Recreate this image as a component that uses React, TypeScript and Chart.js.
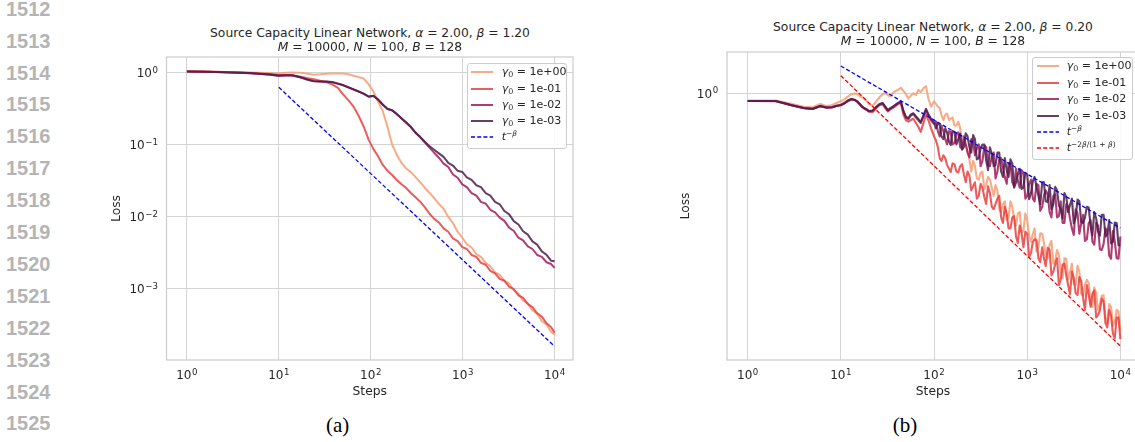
import React, { useEffect, useRef } from 'react';
import { Chart, registerables } from 'chart.js';

Chart.register(...registerables);

// ---------------- data: panel (a), beta = 1.20 ----------------
const STEPS_A = [1, 1.5, 2, 3, 4, 5, 6, 7, 8, 10, 12, 14, 17, 20, 24, 28, 33, 38, 44, 50, 57, 65, 74, 84, 95,
  107, 120, 135, 152, 171, 192, 216, 243, 273, 307, 345, 388, 436, 490, 551, 620, 697, 784, 881, 990,
  1110, 1250, 1410, 1580, 1780, 2000, 2250, 2530, 2840, 3200, 3600, 4040, 4540, 5110, 5740, 6460, 7260, 8160, 9180, 10000];

const LOSS_A_G1 = [1.047, 1.040, 1.033, 1.023, 1.014, 1.007, 1.000, 0.993, 0.989, 0.982,
  1.000, 1.012, 1.000, 0.977, 0.944, 0.955, 0.973, 0.977, 0.982, 0.977,
  0.955, 0.912, 0.871, 0.832, 0.692, 0.550, 0.398, 0.295, 0.178, 0.100,
  0.0724, 0.0562, 0.0468, 0.0417, 0.0355, 0.0302, 0.0251, 0.0214, 0.0182, 0.0151,
  0.0129, 0.00995, 0.00817, 0.00614, 0.00515, 0.00415, 0.00373, 0.00301, 0.00277, 0.00228,
  0.00205, 0.00169, 0.00156, 0.00128, 0.00118, 0.000951, 0.000855, 0.000689, 0.000619, 0.000499,
  0.000449, 0.000353, 0.000318, 0.000250, 0.000230];

const LOSS_A_G2 = [1.047, 1.040, 1.033, 1.019, 1.007, 0.995, 0.982, 0.973, 0.964, 0.933,
  0.933, 0.923, 0.891, 0.851, 0.813, 0.776, 0.741, 0.692, 0.617, 0.501,
  0.417, 0.339, 0.251, 0.178, 0.117, 0.0871, 0.0692, 0.0525, 0.0437, 0.0380,
  0.0324, 0.0282, 0.0251, 0.0214, 0.0186, 0.0162, 0.0135, 0.0110, 0.00933, 0.00832,
  0.00689, 0.00619, 0.00499, 0.00459, 0.00378, 0.00356, 0.00294, 0.00277, 0.00228, 0.00215,
  0.00177, 0.00163, 0.00137, 0.00129, 0.00107, 0.000982, 0.000809, 0.000745, 0.000614, 0.000552,
  0.000455, 0.000409, 0.000330, 0.000290, 0.000245];

const LOSS_A_G3 = [1.047, 1.038, 1.028, 1.012, 0.998, 0.984, 0.970, 0.957, 0.944, 0.910,
  0.920, 0.921, 0.868, 0.810, 0.764, 0.756, 0.752, 0.742, 0.705, 0.673,
  0.628, 0.586, 0.547, 0.510, 0.465, 0.476, 0.424, 0.360, 0.313, 0.299,
  0.266, 0.232, 0.202, 0.176, 0.146, 0.127, 0.107, 0.0912, 0.0776, 0.0661,
  0.0547, 0.0492, 0.0387, 0.0348, 0.0281, 0.0258, 0.0213, 0.0196, 0.0161, 0.0152,
  0.0125, 0.0115, 0.00973, 0.00875, 0.00705, 0.00634, 0.00511, 0.00470, 0.00387, 0.00356,
  0.00294, 0.00277, 0.00233, 0.00220, 0.00194];

const LOSS_A_G4 = [1.047, 1.038, 1.028, 1.014, 1.000, 0.986, 0.973, 0.959, 0.946, 0.912,
  0.923, 0.923, 0.871, 0.813, 0.767, 0.759, 0.755, 0.745, 0.708, 0.676,
  0.631, 0.589, 0.550, 0.513, 0.468, 0.479, 0.427, 0.363, 0.316, 0.302,
  0.269, 0.234, 0.204, 0.178, 0.148, 0.129, 0.110, 0.0955, 0.0851, 0.0759,
  0.0679, 0.0560, 0.0515, 0.0435, 0.0419, 0.0353, 0.0325, 0.0274, 0.0258, 0.0213,
  0.0196, 0.0161, 0.0149, 0.0120, 0.0108, 0.00867, 0.00780, 0.00628, 0.00565, 0.00455,
  0.00409, 0.00330, 0.00296, 0.00244, 0.00241];

// ---------------- data: panel (b), beta = 0.20 ----------------
const STEPS_B = [1, 2, 3, 4, 5, 6, 7, 8, 9, 10, 11, 12, 13, 14, 15, 16, 17, 18, 19, 20,
  22, 24, 26, 28, 30, 32, 34, 36, 38, 41, 44, 47, 50, 53, 56, 60, 64, 68, 72, 77, 82, 87, 93, 100,
  105, 110, 115, 120, 126, 132, 138, 145, 151, 158,
  166, 174, 182, 191, 200, 209, 219, 229, 240, 251,
  263, 275, 288, 302, 316, 331, 347, 363, 380, 398,
  417, 437, 457, 479, 501, 525, 550, 575, 603, 631,
  661, 692, 724, 759, 794, 832, 871, 912, 955, 1000,
  1050, 1100, 1150, 1200, 1260, 1320, 1380, 1450, 1510, 1580,
  1660, 1740, 1820, 1910, 2000, 2090, 2190, 2290, 2400, 2510,
  2630, 2750, 2880, 3020, 3160, 3310, 3470, 3630, 3800, 3980,
  4170, 4370, 4570, 4790, 5010, 5250, 5500, 5750, 6030, 6310,
  6610, 6920, 7240, 7590, 7940, 8320, 8710, 9120, 9550, 10000];

const LOSS_B_G1 = [0.940, 0.940, 0.912, 0.891, 0.887, 0.912, 0.897, 0.902, 0.920, 0.933,
  0.951, 0.973, 0.991, 0.998, 0.991, 0.973, 0.966, 0.951, 0.933, 0.912,
  0.899, 0.933, 0.966, 0.991, 1.002, 0.982, 0.973, 1.000, 1.014,
  1.028, 1.047, 1.019, 0.991, 0.955, 0.977,
  1.000, 0.986, 1.028, 1.009, 1.042, 1.062, 0.955, 0.891, 0.933,
  0.912, 0.891, 0.881, 0.832, 0.794, 0.832, 0.841, 0.794, 0.804, 0.813,
  0.759, 0.759, 0.785, 0.741, 0.646, 0.646, 0.646, 0.617, 0.569, 0.513,
  0.562, 0.537, 0.484, 0.479, 0.507, 0.513, 0.442, 0.457, 0.490, 0.479,
  0.447, 0.417, 0.457, 0.437, 0.372, 0.363, 0.389, 0.398, 0.339, 0.347,
  0.398, 0.380, 0.343, 0.324, 0.359, 0.363, 0.305, 0.309, 0.359, 0.339,
  0.297, 0.282, 0.301, 0.316, 0.260, 0.269, 0.303, 0.302, 0.280, 0.251,
  0.244, 0.275, 0.284, 0.234, 0.240, 0.263, 0.252, 0.219, 0.207, 0.245,
  0.244, 0.204, 0.218, 0.234, 0.197, 0.195, 0.230, 0.219, 0.181, 0.178,
  0.196, 0.204, 0.199, 0.170, 0.162, 0.191, 0.182, 0.158, 0.165, 0.178,
  0.179, 0.148, 0.141, 0.166, 0.162, 0.138, 0.142, 0.158, 0.156, 0.132];

const LOSS_B_G2 = [0.935, 0.935, 0.902, 0.881, 0.875, 0.897, 0.885, 0.887, 0.899, 0.904,
  0.922, 0.941, 0.951, 0.944, 0.930, 0.908, 0.887, 0.875, 0.866, 0.855,
  0.851, 0.881, 0.902, 0.912, 0.881, 0.855, 0.871, 0.881, 0.891,
  0.912, 0.923, 0.832, 0.794, 0.785, 0.794,
  0.804, 0.776, 0.750, 0.719, 0.776, 0.832, 0.794, 0.741, 0.692,
  0.668, 0.631, 0.575, 0.562, 0.589, 0.575, 0.543, 0.525, 0.511, 0.550,
  0.546, 0.513, 0.509, 0.537, 0.546, 0.501, 0.468, 0.513, 0.495, 0.437,
  0.452, 0.468, 0.407, 0.417, 0.462, 0.447, 0.412, 0.389, 0.452, 0.427,
  0.380, 0.372, 0.389, 0.407, 0.417, 0.347, 0.331, 0.380, 0.359, 0.316,
  0.316, 0.347, 0.351, 0.295, 0.279, 0.324, 0.303, 0.269, 0.307, 0.302,
  0.248, 0.257, 0.282, 0.288, 0.286, 0.245, 0.237, 0.269, 0.246, 0.229,
  0.268, 0.263, 0.212, 0.219, 0.233, 0.245, 0.195, 0.204, 0.232, 0.234,
  0.211, 0.195, 0.180, 0.219, 0.207, 0.182, 0.179, 0.209, 0.202, 0.174,
  0.158, 0.195, 0.180, 0.162, 0.181, 0.186, 0.148, 0.151, 0.157, 0.174,
  0.169, 0.141, 0.136, 0.158, 0.150, 0.129, 0.124, 0.148, 0.148, 0.123];

const LOSS_B_G3 = [0.935, 0.934, 0.900, 0.879, 0.874, 0.895, 0.884, 0.885, 0.897, 0.902,
  0.917, 0.936, 0.948, 0.944, 0.930, 0.909, 0.889, 0.876, 0.868, 0.856,
  0.860, 0.887, 0.908, 0.916, 0.887, 0.861, 0.877, 0.886, 0.899,
  0.915, 0.927, 0.853, 0.810, 0.802, 0.825,
  0.836, 0.812, 0.794, 0.775, 0.819, 0.866, 0.826, 0.792, 0.770,
  0.785, 0.724, 0.692, 0.759, 0.724, 0.676, 0.646, 0.724, 0.719, 0.646,
  0.653, 0.708, 0.716, 0.631, 0.624, 0.692, 0.646, 0.603, 0.579, 0.676,
  0.668, 0.589, 0.624, 0.646, 0.537, 0.562, 0.638, 0.631, 0.543, 0.537,
  0.582, 0.603, 0.484, 0.513, 0.569, 0.575, 0.531, 0.490, 0.462, 0.550,
  0.550, 0.468, 0.452, 0.525, 0.473, 0.447, 0.519, 0.501, 0.407, 0.417,
  0.462, 0.479, 0.407, 0.398, 0.462, 0.457, 0.367, 0.380, 0.417, 0.437,
  0.422, 0.363, 0.347, 0.417, 0.422, 0.347, 0.351, 0.398, 0.331, 0.331,
  0.389, 0.380, 0.343, 0.316, 0.299, 0.372, 0.359, 0.302, 0.329, 0.355,
  0.284, 0.288, 0.330, 0.339, 0.282, 0.275, 0.332, 0.324, 0.264, 0.263,
  0.277, 0.316, 0.309, 0.251, 0.244, 0.309, 0.283, 0.245, 0.244, 0.295];

const LOSS_B_G4 = [0.935, 0.935, 0.902, 0.881, 0.875, 0.897, 0.885, 0.887, 0.899, 0.904,
  0.920, 0.940, 0.951, 0.946, 0.933, 0.912, 0.891, 0.879, 0.871, 0.859,
  0.863, 0.891, 0.912, 0.920, 0.891, 0.865, 0.881, 0.891, 0.904,
  0.920, 0.933, 0.859, 0.817, 0.809, 0.832,
  0.843, 0.820, 0.802, 0.783, 0.828, 0.875, 0.836, 0.802, 0.780,
  0.741, 0.776, 0.767, 0.692, 0.676, 0.741, 0.716, 0.661, 0.643, 0.724,
  0.719, 0.646, 0.675, 0.708, 0.618, 0.631, 0.711, 0.692, 0.631, 0.603,
  0.700, 0.676, 0.569, 0.575, 0.624, 0.646, 0.646, 0.562, 0.519, 0.631,
  0.596, 0.537, 0.543, 0.603, 0.603, 0.513, 0.490, 0.575, 0.519, 0.490,
  0.569, 0.550, 0.447, 0.468, 0.501, 0.525, 0.442, 0.447, 0.507, 0.501,
  0.405, 0.427, 0.473, 0.490, 0.449, 0.417, 0.388, 0.468, 0.469, 0.398,
  0.396, 0.457, 0.372, 0.389, 0.450, 0.437, 0.385, 0.372, 0.344, 0.427,
  0.412, 0.363, 0.386, 0.407, 0.330, 0.347, 0.404, 0.398, 0.333, 0.331,
  0.347, 0.380, 0.378, 0.324, 0.298, 0.363, 0.344, 0.309, 0.297, 0.355,
  0.355, 0.295, 0.300, 0.339, 0.278, 0.282, 0.332, 0.331, 0.274, 0.275];

// reference power laws (end points)
const REF_STEPS = [10, 10000];
const REF_A_BETA = [0.631, 0.000158];
const REF_B_BETA = [1.26, 0.317];
const REF_B_2BETA = [1.16, 0.116];

const SERIES_LABELS = ['1e+00', '1e-01', '1e-02', '1e-03'];
const X_TICKS = [1, 10, 100, 1000, 10000];
const X_TICK_EXPONENTS = ['0', '1', '2', '3', '4'];
const Y_TICKS_A = [1, 0.1, 0.01, 0.001];
const Y_TICK_EXPONENTS_A = ['0', '−1', '−2', '−3'];
const Y_TICKS_B = [1];
const Y_TICK_EXPONENTS_B = ['0'];
const LINE_NUMBERS = ['1512', '1513', '1514', '1515', '1516', '1517', '1518', '1519', '1520', '1521', '1522', '1523', '1524', '1525'];

// ---------------- style ----------------
const FONT = "'DejaVu Sans', sans-serif";
const INK = '#262626';
const GRID = '#d4d4d4';
const SPINE = '#cccccc';
const SERIES_COLORS = ['rgba(246,156,115,0.85)', 'rgba(232,63,63,0.85)', 'rgba(161,26,91,0.85)', 'rgba(76,29,75,0.85)'];

const spinePlugin = {
  id: 'spines',
  afterDatasetsDraw(chart: any) {
    const { ctx, chartArea: a } = chart;
    ctx.save();
    ctx.strokeStyle = SPINE;
    ctx.lineWidth = 1.2;
    ctx.strokeRect(a.left, a.top, a.right - a.left, a.bottom - a.top);
    ctx.restore();
  },
};

function drawPow(ctx: CanvasRenderingContext2D, exp: string, x: number, baseline: number, align: 'center' | 'right') {
  ctx.font = `12px ${FONT}`;
  const wb = ctx.measureText('10').width;
  ctx.font = `8.6px ${FONT}`;
  const we = ctx.measureText(exp).width;
  const gap = 0.6;
  const total = wb + gap + we;
  const x0 = align === 'center' ? x - total / 2 : x - total;
  ctx.textAlign = 'left';
  ctx.textBaseline = 'alphabetic';
  ctx.font = `12px ${FONT}`;
  ctx.fillText('10', x0, baseline);
  ctx.font = `8.6px ${FONT}`;
  ctx.fillText(exp, x0 + wb + gap, baseline - 4.4);
}

type Panel = {
  steps: number[];
  series: number[][];
  lineWidth: number;
  refs: { values: number[]; color: string }[];
  yMin: number;
  yMax: number;
  yTicks: number[];
  yTickExponents: string[];
  yAxisWidth: number;
  yTitlePad: number;
  yTickPad: number;
  padRight: number;
};

function buildConfig(p: Panel): any {
  const pts = (xs: number[], ys: number[]) => xs.map((x, i) => ({ x, y: ys[i] }));
  const datasets: any[] = p.series.map((vals, i) => ({
    label: SERIES_LABELS[i],
    data: pts(p.steps, vals),
    borderColor: SERIES_COLORS[i],
    backgroundColor: SERIES_COLORS[i],
    borderWidth: p.lineWidth,
    borderJoinStyle: 'round',
    pointRadius: 0,
    tension: 0,
    order: 4 - i,
  }));
  p.refs.forEach((r) =>
    datasets.push({
      data: pts(REF_STEPS, r.values),
      borderColor: r.color,
      borderWidth: 1.3,
      borderDash: [4, 2.2],
      pointRadius: 0,
      order: 0,
    })
  );
  const tickLabelPlugin = {
    id: 'powTickLabels',
    afterDraw(chart: any) {
      const { ctx, chartArea: a, scales } = chart;
      ctx.save();
      ctx.fillStyle = INK;
      X_TICKS.forEach((v, i) => drawPow(ctx, X_TICK_EXPONENTS[i], scales.x.getPixelForValue(v), a.bottom + 19.3, 'center'));
      p.yTicks.forEach((v, i) => drawPow(ctx, p.yTickExponents[i], a.left - p.yTickPad, scales.y.getPixelForValue(v) + 4.6, 'right'));
      ctx.restore();
    },
  };
  return {
    type: 'line',
    data: { datasets },
    options: {
      responsive: false,
      animation: false,
      devicePixelRatio: 1,
      events: [],
      layout: { padding: { left: 0, top: 7, right: p.padRight, bottom: 0 } },
      plugins: { legend: { display: false }, tooltip: { enabled: false }, title: { display: false } },
      scales: {
        x: {
          type: 'logarithmic',
          min: 0.631,
          max: 15849,
          afterBuildTicks: (s: any) => {
            s.ticks = X_TICKS.map((v) => ({ value: v }));
          },
          afterFit: (s: any) => {
            s.height = 42;
            s.paddingLeft = 0;
            s.paddingRight = 0;
          },
          ticks: { display: false, autoSkip: false },
          grid: { color: GRID, lineWidth: 1, drawTicks: false },
          border: { display: false },
          title: { display: true, text: 'Steps', color: INK, font: { family: FONT, size: 12.3 }, padding: { top: 0, bottom: 2.9 } },
        },
        y: {
          type: 'logarithmic',
          min: p.yMin,
          max: p.yMax,
          afterBuildTicks: (s: any) => {
            s.ticks = p.yTicks.map((v) => ({ value: v }));
          },
          afterFit: (s: any) => {
            s.width = p.yAxisWidth;
            s.paddingTop = 0;
            s.paddingBottom = 0;
          },
          ticks: { display: false, autoSkip: false },
          grid: { color: GRID, lineWidth: 1, drawTicks: false },
          border: { display: false },
          title: { display: true, text: 'Loss', color: INK, font: { family: FONT, size: 12.3 }, padding: { top: p.yTitlePad, bottom: 0 } },
        },
      },
    },
    plugins: [spinePlugin, tickLabelPlugin],
  };
}

const PANEL_A: Panel = {
  steps: STEPS_A,
  series: [LOSS_A_G1, LOSS_A_G2, LOSS_A_G3, LOSS_A_G4],
  lineWidth: 2,
  refs: [{ values: REF_A_BETA, color: '#0000ff' }],
  yMin: 0.000102,
  yMax: 1.66,
  yTicks: Y_TICKS_A,
  yTickExponents: Y_TICK_EXPONENTS_A,
  yAxisWidth: 66.5,
  yTitlePad: 9.3,
  yTickPad: 8.5,
  padRight: 7,
};

const PANEL_B: Panel = {
  steps: STEPS_B,
  series: [LOSS_B_G1, LOSS_B_G2, LOSS_B_G3, LOSS_B_G4],
  lineWidth: 2.1,
  refs: [
    { values: REF_B_BETA, color: '#0000ff' },
    { values: REF_B_2BETA, color: '#ff0000' },
  ],
  yMin: 0.103,
  yMax: 1.42,
  yTicks: Y_TICKS_B,
  yTickExponents: Y_TICK_EXPONENTS_B,
  yAxisWidth: 67,
  yTitlePad: 18,
  yTickPad: 8.8,
  padRight: 5,
};

function LossChart({ panel, left, top, width, height }: { panel: Panel; left: number; top: number; width: number; height: number }) {
  const ref = useRef<HTMLCanvasElement>(null);
  useEffect(() => {
    const chart = new Chart(ref.current as HTMLCanvasElement, buildConfig(panel));
    return () => chart.destroy();
  }, [panel]);
  return <canvas ref={ref} width={width} height={height} style={{ position: 'absolute', left, top, width, height }} />;
}

const sub: React.CSSProperties = { fontSize: '0.72em', verticalAlign: '-0.28em', lineHeight: 0 };
const sup: React.CSSProperties = { fontSize: '0.68em', verticalAlign: '0.55em', lineHeight: 0 };

type LegendEntry = { color: string; dashed: boolean; label: React.ReactNode };

function gammaLabel(v: string) {
  return (
    <>
      <i>γ</i>
      <span style={sub}>0</span> = {v}
    </>
  );
}

function Legend({ left, top, width, height, rowStart, rowGap, handleX, textX, entries }: {
  left: number; top: number; width: number; height: number; rowStart: number; rowGap: number; handleX: number; textX: number; entries: LegendEntry[];
}) {
  return (
    <div
      style={{
        position: 'absolute', left, top, width, height, boxSizing: 'border-box',
        border: `1px solid ${SPINE}`, borderRadius: 3, background: 'rgba(255,255,255,0.85)',
      }}
    >
      {entries.map((e, i) => {
        const cy = rowStart + rowGap * i - 1;
        return (
          <React.Fragment key={i}>
            <svg style={{ position: 'absolute', left: handleX - 1, top: cy - 4 }} width={24} height={8}>
              <line x1={0} y1={4} x2={22} y2={4} stroke={e.color} strokeWidth={e.dashed ? 1.4 : 2} strokeDasharray={e.dashed ? '4 2.2' : undefined} />
            </svg>
            <div
              style={{
                position: 'absolute', left: textX - 1, top: cy, transform: 'translateY(-50%)', whiteSpace: 'nowrap',
                fontFamily: FONT, fontSize: 11, color: INK, lineHeight: '12px',
              }}
            >
              {e.label}
            </div>
          </React.Fragment>
        );
      })}
    </div>
  );
}

function Title({ cx, y1, y2, alpha, beta }: { cx: number; y1: number; y2: number; alpha: string; beta: string }) {
  const common: React.CSSProperties = {
    position: 'absolute', left: cx, transform: 'translate(-50%, -50%)', whiteSpace: 'nowrap',
    fontFamily: FONT, fontSize: 12.3, color: INK, lineHeight: '14px',
  };
  return (
    <>
      <div style={{ ...common, top: y1 }}>
        Source Capacity Linear Network, <i>α</i> = {alpha}, <i>β</i> = {beta}
      </div>
      <div style={{ ...common, top: y2 }}>
        <i>M</i> = 10000, <i>N</i> = 100, <i>B</i> = 128
      </div>
    </>
  );
}

export default function App() {
  const gammaEntries: LegendEntry[] = SERIES_LABELS.map((l, i) => ({ color: SERIES_COLORS[i], dashed: false, label: gammaLabel(l) }));
  const betaEntry: LegendEntry = {
    color: '#0000ff', dashed: true,
    label: (<><i>t</i><span style={sup}>−<i>β</i></span></>),
  };
  const twoBetaEntry: LegendEntry = {
    color: '#ff0000', dashed: true,
    label: (<><i>t</i><span style={sup}>−2<i>β</i>/(1 + <i>β</i>)</span></>),
  };
  return (
    <div style={{ position: 'fixed', left: 0, top: 0, width: 1135, height: 442, overflow: 'hidden', background: '#ffffff' }}>
      {LINE_NUMBERS.map((n, i) => (
        <div
          key={n}
          style={{
            position: 'absolute', left: 6, top: 8.7 + 31.9 * i, transform: 'translateY(-50%)',
            fontFamily: "'Liberation Sans', Arial, sans-serif", fontWeight: 'bold', fontSize: 20, lineHeight: '22px', color: '#b4b4b4',
          }}
        >
          {n}
        </div>
      ))}

      <LossChart panel={PANEL_A} left={100} top={50} width={480} height={352} />
      <LossChart panel={PANEL_B} left={660} top={45} width={484} height={357} />

      <Title cx={370} y1={32.8} y2={46.9} alpha="2.00" beta="1.20" />
      <Title cx={933} y1={27} y2={41} alpha="2.00" beta="0.20" />

      <Legend left={466.7} top={63.3} width={100.8} height={85.7} rowStart={9} rowGap={16.25} handleX={4.3} textX={35} entries={[...gammaEntries, betaEntry]} />
      <Legend left={1032.3} top={56.7} width={101.2} height={103.3} rowStart={9.8} rowGap={16.35} handleX={4.4} textX={34.4} entries={[...gammaEntries, betaEntry, twoBetaEntry]} />

      <div style={{ position: 'absolute', left: 337.6, top: 425, transform: 'translate(-50%, -50%)', fontFamily: "'Liberation Serif', 'Times New Roman', serif", fontSize: 21, lineHeight: '24px', color: '#000' }}>(a)</div>
      <div style={{ position: 'absolute', left: 905, top: 425, transform: 'translate(-50%, -50%)', fontFamily: "'Liberation Serif', 'Times New Roman', serif", fontSize: 21, lineHeight: '24px', color: '#000' }}>(b)</div>
    </div>
  );
}
